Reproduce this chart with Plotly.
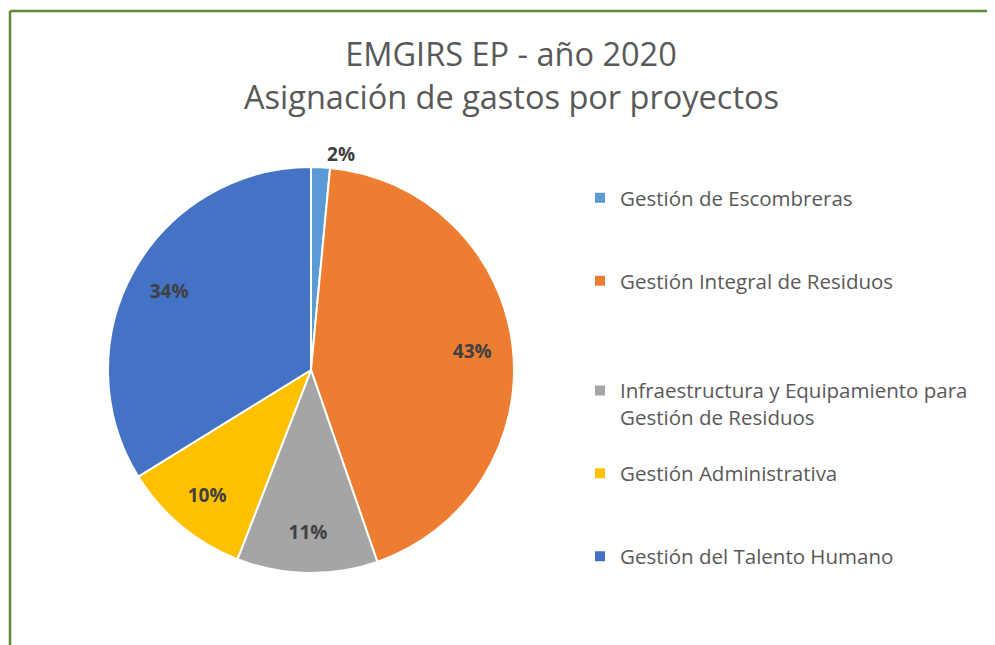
import plotly.graph_objects as go

categories = [
    "Gestión de Escombreras",
    "Gestión Integral de Residuos",
    "Infraestructura y Equipamiento para<br>Gestión de Residuos",
    "Gestión Administrativa",
    "Gestión del Talento Humano",
]
values = [1.5, 43.2, 11.2, 10.3, 33.8]
colors = ["#5B9BD5", "#ED7D31", "#A5A5A5", "#FFC000", "#4472C4"]
title_line1 = "EMGIRS EP - año 2020"
title_line2 = "Asignación de gastos por proyectos"

# blank lines appended to legend labels to reproduce the wide legend spacing
pad_lines = [2, 3, 1, 2, 0]
legend_labels = [c + "<br> " * p for c, p in zip(categories, pad_lines)]

OFF = 8  # page body margin
W, H = 995 - OFF, 645 - OFF


def px(x):
    return (x - OFF) / W


def py(y):
    return 1 - (y - OFF) / H


cx, cy, r = 311, 370, 203
pie_domain = dict(x=[px(cx - r), px(cx + r)], y=[py(cy + r), py(cy - r)])
label_font = dict(family="Open Sans", size=19, color="#404040", weight="bold")

fig = go.Figure()

# main pie: slices, plus the outside label of the smallest slice
fig.add_trace(go.Pie(
    labels=legend_labels,
    values=values,
    sort=False,
    direction="clockwise",
    rotation=0,
    marker=dict(colors=colors, line=dict(color="white", width=2)),
    texttemplate=["%{percent:.0%}", "", "", "", ""],
    textposition=["outside", "none", "none", "none", "none"],
    outsidetextfont=label_font,
    textfont=label_font,
    domain=pie_domain,
    hoverinfo="label+percent",
))

# transparent ring over the pie that places the inside labels at ~0.8 r
fig.add_trace(go.Pie(
    labels=legend_labels,
    values=values,
    sort=False,
    direction="clockwise",
    rotation=0,
    hole=0.6,
    marker=dict(colors=["rgba(0,0,0,0)"] * len(values), line=dict(width=0)),
    texttemplate=["", "%{percent:.0%}", "%{percent:.0%}", "%{percent:.0%}", "%{percent:.0%}"],
    textposition="inside",
    insidetextorientation="horizontal",
    insidetextfont=label_font,
    domain=pie_domain,
    showlegend=False,
    hoverinfo="skip",
))

title_font = dict(family="Open Sans", size=32.5, color="#595959")
green = "#5B8C3A"

fig.update_layout(
    width=W, height=H,
    margin=dict(l=0, r=0, t=0, b=0),
    paper_bgcolor="white",
    title=dict(text=title_line1, x=px(511), xanchor="center", y=py(55), yanchor="middle",
               font=title_font),
    annotations=[dict(text=title_line2, xref="paper", yref="paper", x=px(511), y=py(96),
                      xanchor="center", yanchor="middle", showarrow=False, font=title_font)],
    legend=dict(
        x=px(580), y=py(178), xanchor="left", yanchor="top",
        valign="top",
        font=dict(family="Open Sans", size=20.5, color="#595959"),
        bgcolor="rgba(0,0,0,0)",
    ),
    shapes=[
        dict(type="line", xref="paper", yref="paper", x0=px(10), x1=1, y0=py(11), y1=py(11),
             line=dict(color=green, width=2.5)),
        dict(type="line", xref="paper", yref="paper", x0=px(10), x1=px(10), y0=0, y1=py(11),
             line=dict(color=green, width=2.5)),
    ],
)

fig.write_html("out.html")
